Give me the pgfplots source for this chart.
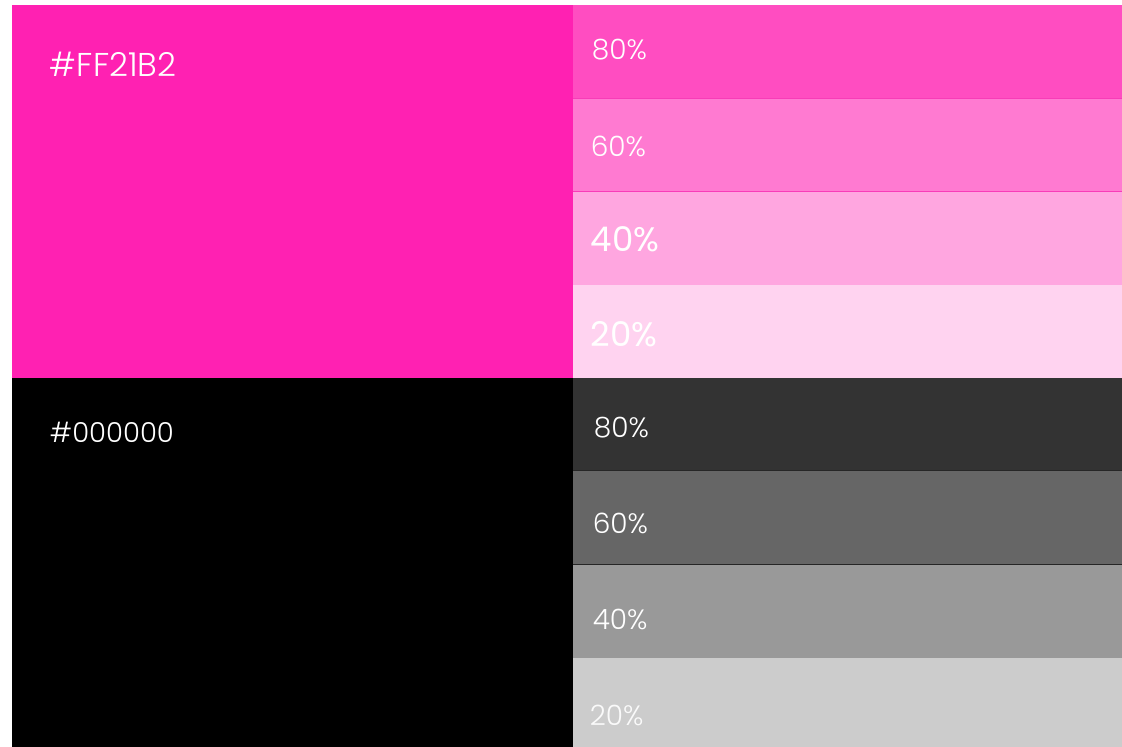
\documentclass[border=0pt]{standalone}
\usepackage{pgfplots}
\pgfplotsset{compat=1.18}
\usepackage{fontspec}
\setmainfont{Poppins}
\newfontfamily\lightfont{Poppins Light}

\definecolor{base}{HTML}{FF21B2}
\definecolor{p80}{HTML}{FF4DC1}
\definecolor{p60}{HTML}{FF7AD1}
\definecolor{p40}{HTML}{FFA6E0}
\definecolor{p20}{HTML}{FFD3F0}
\definecolor{pline}{HTML}{F83CB8}
\definecolor{g80}{HTML}{333333}
\definecolor{g60}{HTML}{666666}
\definecolor{g40}{HTML}{999999}
\definecolor{g20}{HTML}{CCCCCC}
\definecolor{gline}{HTML}{262626}

\tikzset{lbl/.style={text=white, inner sep=0pt, outer sep=0pt, anchor=base west}}

\begin{document}
\begin{tikzpicture}
\begin{axis}[
width=1122pt,
height=747pt,
scale only axis,
hide axis,
clip=false,
xmin=0, xmax=1122,
ymin=0, ymax=747,
y dir=reverse,
]
% background
\addplot[draw=none,fill=white] coordinates {(0,0) (1122,0) (1122,747) (0,747)} -- cycle;

% main swatches
\addplot[draw=none,fill=base] coordinates {(12,5) (573,5) (573,378) (12,378)} -- cycle;
\addplot[draw=none,fill=black] coordinates {(12,378) (573,378) (573,747) (12,747)} -- cycle;

% tints of FF21B2
\addplot[draw=none,fill=p80] coordinates {(573,5) (1122,5) (1122,98) (573,98)} -- cycle;
\addplot[draw=none,fill=p60] coordinates {(573,98) (1122,98) (1122,191) (573,191)} -- cycle;
\addplot[draw=none,fill=p40] coordinates {(573,191) (1122,191) (1122,285) (573,285)} -- cycle;
\addplot[draw=none,fill=p20] coordinates {(573,285) (1122,285) (1122,378) (573,378)} -- cycle;

% tints of 000000
\addplot[draw=none,fill=g80] coordinates {(573,378) (1122,378) (1122,471) (573,471)} -- cycle;
\addplot[draw=none,fill=g60] coordinates {(573,471) (1122,471) (1122,565) (573,565)} -- cycle;
\addplot[draw=none,fill=g40] coordinates {(573,565) (1122,565) (1122,658) (573,658)} -- cycle;
\addplot[draw=none,fill=g20] coordinates {(573,658) (1122,658) (1122,747) (573,747)} -- cycle;

% thin row separators
\addplot[pline,line width=0.8pt] coordinates {(573,98) (1122,98)};
\addplot[pline,line width=0.8pt] coordinates {(573,191) (1122,191)};
\addplot[gline,line width=0.8pt] coordinates {(573,471) (1122,471)};
\addplot[gline,line width=0.8pt] coordinates {(573,565) (1122,565)};

% labels
\node[lbl,font=\lightfont\fontsize{33}{33}\selectfont] at (axis cs:50,77) {\#FF21B2};
\node[lbl,font=\lightfont\fontsize{27.5}{27.5}\selectfont] at (axis cs:50,443) {\#000000};

\node[lbl,font=\lightfont\fontsize{28}{28}\selectfont] at (axis cs:592,60) {80\%};
\node[lbl,font=\lightfont\fontsize{28}{28}\selectfont] at (axis cs:591,157) {60\%};
\node[lbl,font=\fontsize{34}{34}\selectfont] at (axis cs:591,252) {40\%};
\node[lbl,font=\fontsize{34}{34}\selectfont] at (axis cs:591,347) {20\%};

\node[lbl,font=\lightfont\fontsize{28}{28}\selectfont] at (axis cs:594,438) {80\%};
\node[lbl,font=\lightfont\fontsize{28}{28}\selectfont] at (axis cs:593,534) {60\%};
\node[lbl,font=\lightfont\fontsize{28}{28}\selectfont] at (axis cs:593,630) {40\%};
\node[lbl,font=\lightfont\fontsize{28}{28}\selectfont,text=white!90!g20] at (axis cs:590,726) {20\%};
\end{axis}
\end{tikzpicture}
\end{document}
